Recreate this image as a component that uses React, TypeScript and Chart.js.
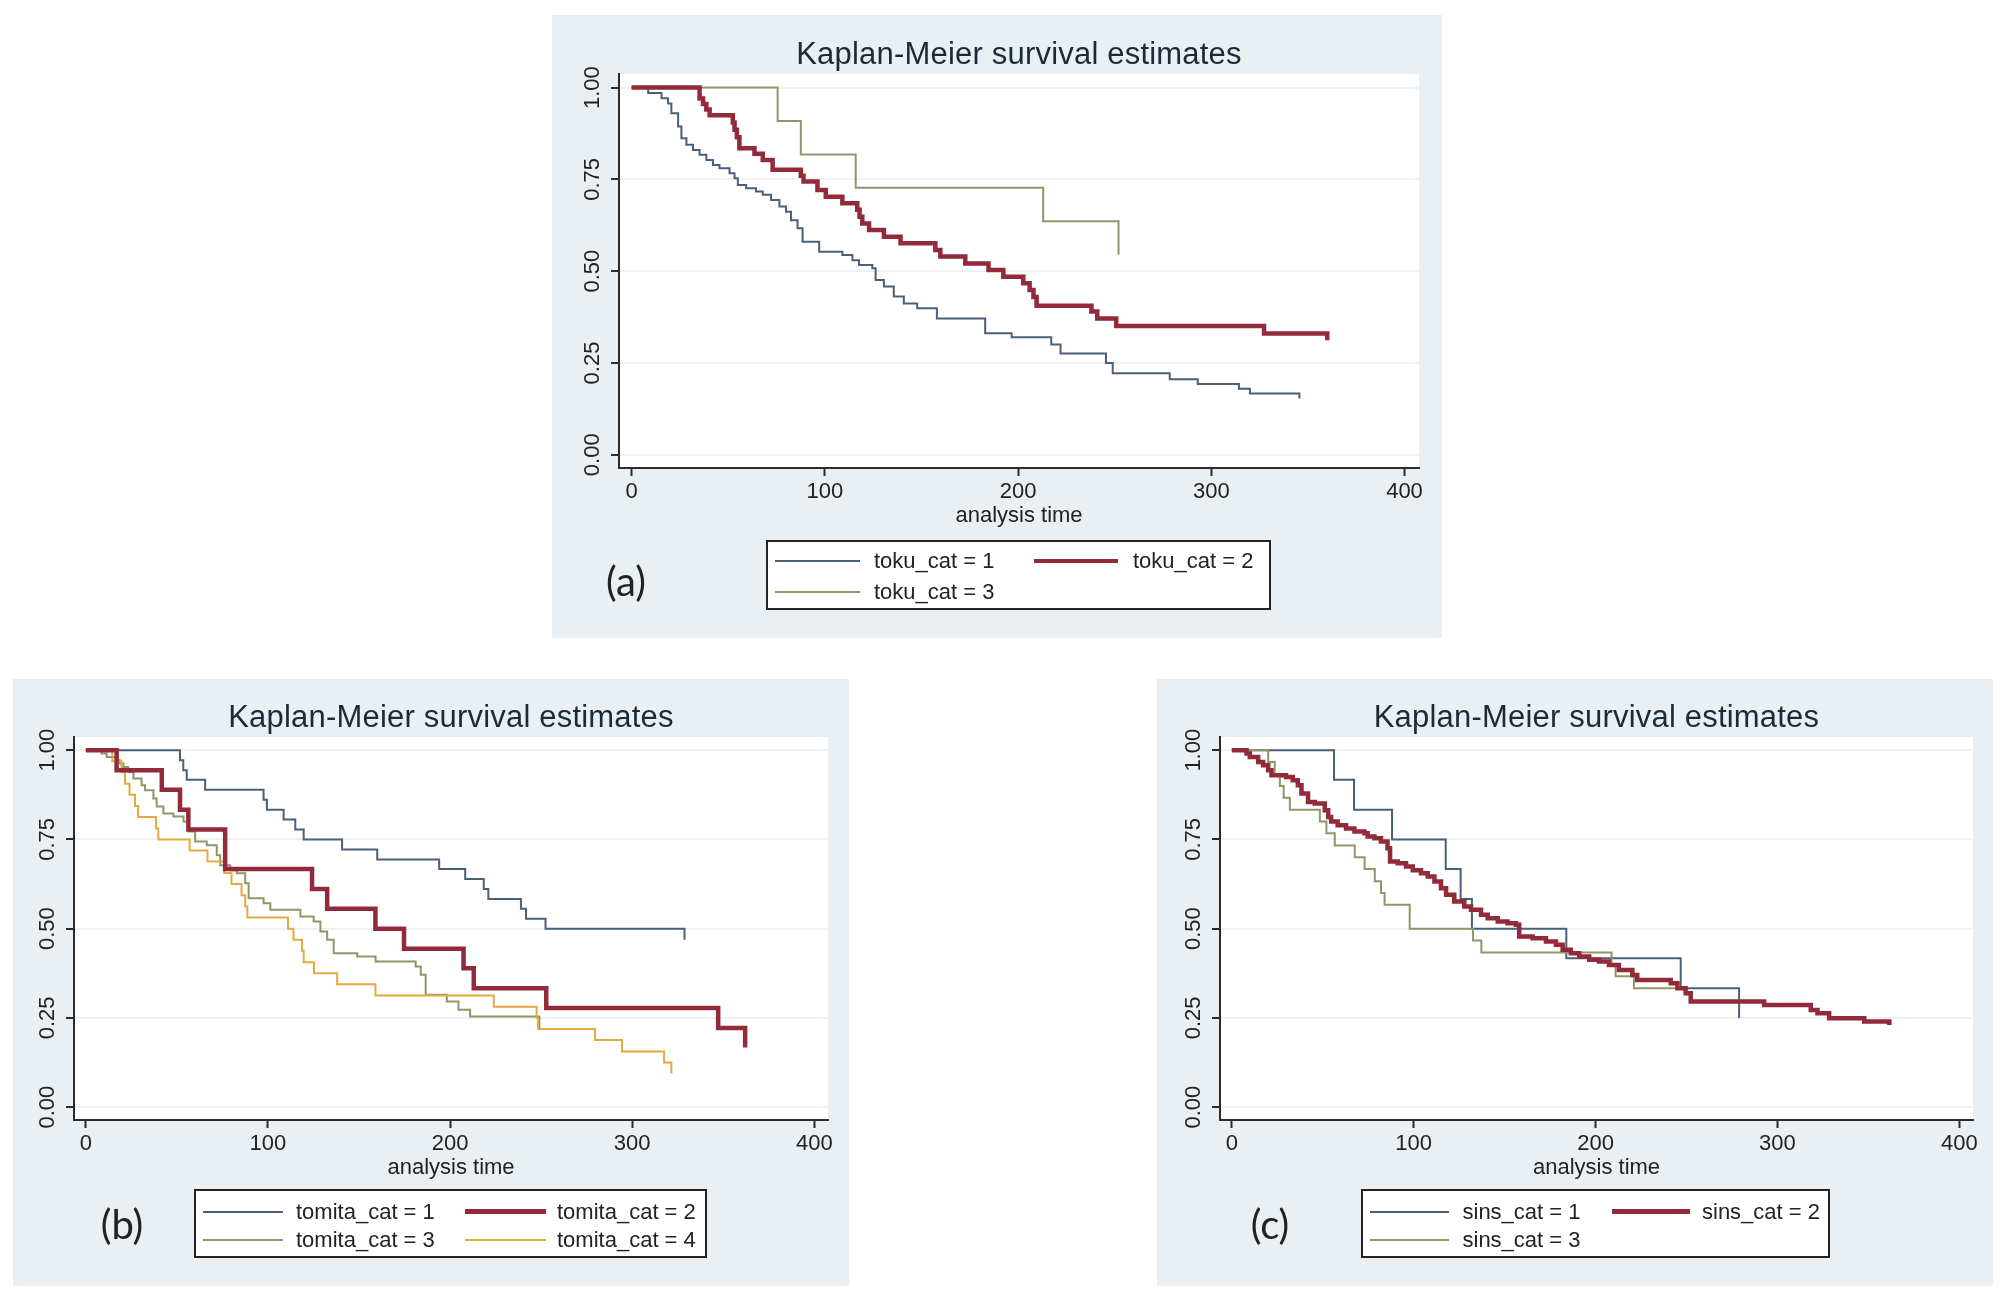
import React, { useEffect, useRef } from 'react';
import { Chart, registerables } from 'chart.js';

Chart.register(...registerables);

const FONT = "'Liberation Sans', Arial, Helvetica, sans-serif";
Chart.defaults.font.family = FONT;

// ---------- shared axis content ----------
const xTickValues = [0, 100, 200, 300, 400];
const yTickValues = [0, 0.25, 0.5, 0.75, 1];
const yTickLabels = ['0.00', '0.25', '0.50', '0.75', '1.00'];
const chartTitle = 'Kaplan-Meier survival estimates';
const xAxisTitle = 'analysis time';

// ---------- panel (a): toku_cat ----------
const tokuLabels = ['toku_cat = 1', 'toku_cat = 2', 'toku_cat = 3'];
const toku1Time = [0, 8.6, 15.5, 18.9, 20.6, 24.1, 25.8, 28.4, 31.8, 35.2, 38.7, 42.1, 45.5, 50.7, 53.3, 55.0, 59.3, 64.4, 67.9, 72.2, 76.5, 79.9, 82.5, 85.9, 88.5, 97.1, 109.1, 114.3, 117.7, 124.6, 126.3, 130.6, 135.7, 140.9, 147.8, 158.0, 183.0, 196.7, 217.2, 222.0, 245.5, 249.0, 278.5, 293.0, 314.3, 320.0, 345.6];
const toku1Surv = [1, 0.985, 0.971, 0.957, 0.93, 0.894, 0.862, 0.844, 0.83, 0.817, 0.803, 0.789, 0.78, 0.767, 0.753, 0.735, 0.726, 0.717, 0.708, 0.694, 0.676, 0.662, 0.639, 0.617, 0.58, 0.553, 0.544, 0.53, 0.517, 0.508, 0.476, 0.458, 0.431, 0.412, 0.399, 0.371, 0.331, 0.32, 0.3, 0.276, 0.25, 0.222, 0.206, 0.193, 0.18, 0.167, 0.153];
const toku2Time = [0, 35.2, 37.0, 38.7, 40.4, 52.4, 53.3, 54.5, 55.8, 63.6, 67.9, 73.0, 87.6, 89.0, 96.2, 100.5, 109.1, 116.8, 118.0, 119.4, 122.9, 130.6, 139.2, 157.2, 159.8, 172.7, 184.7, 192.4, 202.7, 206.0, 208.0, 209.6, 238.0, 241.0, 250.8, 327.3, 360.0];
const toku2Surv = [1, 0.97, 0.955, 0.94, 0.925, 0.905, 0.885, 0.865, 0.835, 0.82, 0.803, 0.776, 0.76, 0.744, 0.721, 0.703, 0.685, 0.667, 0.648, 0.63, 0.612, 0.594, 0.576, 0.558, 0.54, 0.521, 0.503, 0.485, 0.467, 0.449, 0.43, 0.406, 0.39, 0.371, 0.351, 0.33, 0.312];
const toku3Time = [0, 75.6, 87.6, 116.0, 213.0, 252.0];
const toku3Surv = [1, 0.909, 0.818, 0.727, 0.636, 0.545];

// ---------- panel (b): tomita_cat ----------
const tomitaLabels = ['tomita_cat = 1', 'tomita_cat = 2', 'tomita_cat = 3', 'tomita_cat = 4'];
const tomita1Time = [0, 51.7, 53.5, 55.4, 65.5, 97.6, 99.4, 108.6, 115.0, 119.6, 140.7, 160.0, 194.0, 208.3, 218.5, 221.0, 238.9, 241.7, 252.4, 328.7];
const tomita1Surv = [1, 0.972, 0.944, 0.917, 0.889, 0.861, 0.833, 0.806, 0.778, 0.75, 0.722, 0.694, 0.667, 0.639, 0.611, 0.583, 0.556, 0.528, 0.5, 0.469];
const tomita2Time = [0, 16.9, 41.7, 51.7, 56.3, 76.5, 124.2, 132.5, 159.0, 174.7, 207.4, 213.0, 252.8, 347.2, 362.0];
const tomita2Surv = [1, 0.944, 0.889, 0.833, 0.778, 0.667, 0.611, 0.556, 0.5, 0.444, 0.389, 0.333, 0.278, 0.222, 0.167];
const tomita3Time = [0, 8.6, 11.4, 16.9, 18.7, 20.6, 23.3, 26.1, 30.6, 32.5, 37.1, 38.9, 42.6, 48.1, 53.6, 56.3, 60.0, 66.4, 71.9, 73.8, 79.3, 82.9, 87.5, 89.4, 97.6, 101.3, 117.8, 125.1, 128.8, 132.5, 136.1, 149.0, 159.1, 181.1, 183.9, 186.6, 198.2, 204.6, 211.0, 249.0];
const tomita3Surv = [1, 0.991, 0.981, 0.972, 0.963, 0.953, 0.939, 0.921, 0.902, 0.888, 0.865, 0.842, 0.823, 0.814, 0.8, 0.772, 0.744, 0.734, 0.706, 0.678, 0.664, 0.655, 0.627, 0.585, 0.571, 0.553, 0.534, 0.52, 0.492, 0.469, 0.431, 0.422, 0.408, 0.394, 0.371, 0.315, 0.296, 0.273, 0.254, 0.222];
const tomita4Time = [0, 14.5, 19.6, 21.5, 24.0, 27.0, 28.7, 38.5, 39.8, 57.0, 66.8, 76.0, 80.0, 85.5, 87.5, 88.7, 111.0, 114.0, 118.7, 119.6, 125.3, 138.0, 159.0, 224.0, 247.5, 248.3, 279.6, 294.4, 317.5, 321.5];
const tomita4Surv = [1, 0.969, 0.938, 0.906, 0.875, 0.844, 0.813, 0.781, 0.75, 0.719, 0.688, 0.656, 0.625, 0.594, 0.563, 0.531, 0.5, 0.469, 0.438, 0.406, 0.375, 0.344, 0.313, 0.281, 0.25, 0.219, 0.188, 0.156, 0.125, 0.094];

// ---------- panel (c): sins_cat ----------
const sinsLabels = ['sins_cat = 1', 'sins_cat = 2', 'sins_cat = 3'];
const sins1Time = [0, 56.2, 67.2, 88.1, 117.6, 125.8, 132.0, 183.9, 246.8, 278.9];
const sins1Surv = [1, 0.917, 0.833, 0.75, 0.667, 0.583, 0.5, 0.417, 0.333, 0.25];
const sins2Time = [0, 8.1, 9.9, 14.5, 17.2, 20.0, 21.8, 29.8, 33.5, 36.3, 38.3, 41.9, 45.6, 51.1, 53.0, 54.6, 58.2, 62.8, 67.4, 72.9, 74.7, 78.4, 82.0, 85.6, 87.0, 91.2, 95.8, 99.5, 104.0, 107.7, 111.4, 115.0, 117.8, 122.3, 127.8, 131.5, 137.0, 140.7, 146.2, 151.6, 156.2, 158.0, 165.4, 172.7, 178.2, 181.9, 186.4, 191.0, 196.5, 201.8, 207.3, 212.8, 220.2, 222.9, 241.3, 245.0, 249.5, 252.3, 292.7, 318.3, 322.0, 328.4, 347.7, 361.5];
const sins2Surv = [1, 0.991, 0.981, 0.967, 0.958, 0.944, 0.93, 0.925, 0.916, 0.902, 0.879, 0.855, 0.851, 0.832, 0.813, 0.8, 0.79, 0.781, 0.772, 0.767, 0.758, 0.753, 0.744, 0.725, 0.688, 0.683, 0.674, 0.664, 0.655, 0.646, 0.632, 0.613, 0.595, 0.576, 0.562, 0.553, 0.539, 0.529, 0.52, 0.515, 0.511, 0.478, 0.473, 0.464, 0.455, 0.441, 0.431, 0.422, 0.413, 0.408, 0.398, 0.384, 0.37, 0.356, 0.347, 0.333, 0.319, 0.296, 0.286, 0.272, 0.263, 0.249, 0.24, 0.23];
const sins3Time = [0, 20.0, 23.6, 26.4, 28.5, 31.9, 48.4, 52.0, 56.6, 67.6, 73.0, 78.6, 82.0, 84.0, 97.8, 132.6, 137.2, 208.8, 211.0, 221.1, 246.5];
const sins3Surv = [1, 0.967, 0.933, 0.9, 0.867, 0.833, 0.8, 0.767, 0.733, 0.7, 0.667, 0.633, 0.6, 0.567, 0.5, 0.467, 0.433, 0.4, 0.367, 0.333, 0.333];

// ---------- styles ----------
const seriesColors = ['#4a6079', '#922a3a', '#8d9868', '#e3aa42'];
const seriesWidths = [2, 4.5, 2, 2];
const panelBg = '#e9eff2';
const axisColor = '#2b2b2b';
const gridColor = '#eef2f4';
const textColor = '#222222';

const X_MIN = -6.5;
const X_MAX = 407.5;
const Y_MIN = -0.036;
const Y_MAX = 1.037;
const Y_AXIS_W = 40;
const X_AXIS_H = 61;

type Series = { label: string; time: number[]; surv: number[]; idx: number };
type LegendSpec = {
  left: number; top: number; width: number; height: number;
  rows: number[];
  cols: { lineL: number; lineR: number; textL: number }[];
};
type PanelSpec = {
  left: number; top: number; width: number; height: number;
  area: { left: number; top: number; right: number; bottom: number };
  series: Series[];
  tag: string; tagX: number; tagY: number;
  legend: LegendSpec;
};

const mk = (labels: string[], times: number[][], survs: number[][]): Series[] =>
  labels.map((label, i) => ({ label, time: times[i], surv: survs[i], idx: i }));

const panels: PanelSpec[] = [
  {
    left: 552, top: 15, width: 890, height: 623,
    area: { left: 67, top: 59, right: 867, bottom: 453 },
    series: mk(tokuLabels, [toku1Time, toku2Time, toku3Time], [toku1Surv, toku2Surv, toku3Surv]),
    tag: '(a)', tagX: 626, tagY: 581,
    legend: {
      left: 766, top: 540, width: 505, height: 70, rows: [21, 51.5],
      cols: [{ lineL: 9, lineR: 94, textL: 108 }, { lineL: 268, lineR: 352, textL: 367 }],
    },
  },
  {
    left: 13, top: 679, width: 836, height: 607,
    area: { left: 61, top: 58, right: 815, bottom: 441 },
    series: mk(tomitaLabels, [tomita1Time, tomita2Time, tomita3Time, tomita4Time], [tomita1Surv, tomita2Surv, tomita3Surv, tomita4Surv]),
    tag: '(b)', tagX: 122, tagY: 1224,
    legend: {
      left: 194, top: 1189, width: 513, height: 69, rows: [22.5, 51],
      cols: [{ lineL: 9, lineR: 89, textL: 102 }, { lineL: 271, lineR: 352, textL: 363 }],
    },
  },
  {
    left: 1157, top: 679, width: 836, height: 607,
    area: { left: 63, top: 58, right: 816, bottom: 441 },
    series: mk(sinsLabels, [sins1Time, sins2Time, sins3Time], [sins1Surv, sins2Surv, sins3Surv]),
    tag: '(c)', tagX: 1270, tagY: 1224,
    legend: {
      left: 1361, top: 1189, width: 469, height: 69, rows: [22.5, 51],
      cols: [{ lineL: 9, lineR: 88, textL: 101.5 }, { lineL: 251, lineR: 329, textL: 341 }],
    },
  },
];

function KMPanel({ spec }: { spec: PanelSpec }) {
  const canvasRef = useRef<HTMLCanvasElement | null>(null);

  useEffect(() => {
    const canvas = canvasRef.current;
    if (!canvas) return;
    const { area, width, height } = spec;

    const datasets = spec.series.map((s) => ({
      label: s.label,
      data: s.time.map((t, i) => ({ x: t, y: s.surv[i] })),
      borderColor: seriesColors[s.idx],
      backgroundColor: seriesColors[s.idx],
      borderWidth: seriesWidths[s.idx],
      pointRadius: 0,
      pointHoverRadius: 0,
      fill: false,
      tension: 0,
      stepped: 'before' as const,
      borderJoinStyle: 'miter' as const,
      borderCapStyle: 'butt' as const,
      order: s.idx === 1 ? 0 : 10 - s.idx,
    }));

    const decor = {
      id: 'kmDecor',
      beforeDraw(chart: any) {
        const { ctx, chartArea } = chart;
        ctx.save();
        ctx.fillStyle = '#ffffff';
        ctx.fillRect(chartArea.left, chartArea.top, chartArea.right - chartArea.left, chartArea.bottom - chartArea.top);
        ctx.restore();
      },
      afterDraw(chart: any) {
        const { ctx, chartArea } = chart;
        const yScale = chart.scales.y;
        ctx.save();
        ctx.fillStyle = textColor;
        ctx.font = `22px ${FONT}`;
        ctx.textAlign = 'center';
        ctx.textBaseline = 'middle';
        yTickValues.forEach((v, i) => {
          const py = yScale.getPixelForValue(v);
          ctx.save();
          ctx.translate(chartArea.left - 26, py);
          ctx.rotate(-Math.PI / 2);
          ctx.fillText(yTickLabels[i], 0, 0);
          ctx.restore();
        });
        ctx.restore();

        ctx.save();
        ctx.fillStyle = '#1c2a38';
        ctx.font = `31px ${FONT}`;
        (ctx as any).letterSpacing = '0.2px';
        ctx.textAlign = 'center';
        ctx.textBaseline = 'alphabetic';
        ctx.fillText(chartTitle, (chartArea.left + chartArea.right) / 2, chartArea.top - 10);
        ctx.restore();
      },
    };

    const chart = new Chart(canvas, {
      type: 'line',
      data: { datasets },
      options: {
        animation: false,
        responsive: false,
        maintainAspectRatio: false,
        events: [],
        layout: {
          padding: {
            left: area.left - Y_AXIS_W,
            right: width - area.right,
            top: area.top,
            bottom: height - area.bottom - X_AXIS_H,
          },
        },
        plugins: {
          legend: { display: false },
          tooltip: { enabled: false },
          title: { display: false },
        },
        scales: {
          x: {
            type: 'linear',
            bounds: 'data',
            min: X_MIN,
            max: X_MAX,
            afterBuildTicks: (s: any) => {
              s.ticks = xTickValues.map((v) => ({ value: v }));
            },
            afterFit: (s: any) => {
              s.height = X_AXIS_H;
              s.paddingLeft = 0;
              s.paddingRight = 0;
            },
            ticks: {
              autoSkip: false,
              maxRotation: 0,
              minRotation: 0,
              padding: 3,
              color: textColor,
              font: { family: FONT, size: 22 },
              callback: (v: any) => String(v),
            },
            grid: {
              drawOnChartArea: false,
              drawTicks: true,
              tickLength: 8,
              tickColor: axisColor,
              tickWidth: 2,
            },
            border: { display: true, color: axisColor, width: 2 },
            title: {
              display: true,
              text: xAxisTitle,
              color: textColor,
              font: { family: FONT, size: 22 },
              padding: { top: 0, bottom: 0 },
            },
          },
          y: {
            type: 'linear',
            bounds: 'data',
            min: Y_MIN,
            max: Y_MAX,
            afterBuildTicks: (s: any) => {
              s.ticks = yTickValues.map((v) => ({ value: v }));
            },
            afterFit: (s: any) => {
              s.width = Y_AXIS_W;
              s.paddingTop = 0;
              s.paddingBottom = 0;
            },
            ticks: { display: false },
            grid: {
              drawOnChartArea: true,
              color: gridColor,
              lineWidth: 2,
              drawTicks: true,
              tickLength: 8,
              tickColor: axisColor,
              tickWidth: 2,
            },
            border: { display: true, color: axisColor, width: 2 },
          },
        },
      } as any,
      plugins: [decor],
    });

    return () => {
      chart.destroy();
    };
  }, [spec]);

  const lg = spec.legend;
  return (
    <div
      style={{
        position: 'absolute',
        left: spec.left,
        top: spec.top,
        width: spec.width,
        height: spec.height,
        background: panelBg,
      }}
    >
      <canvas
        ref={canvasRef}
        width={spec.width}
        height={spec.height}
        style={{ position: 'absolute', left: 0, top: 0, width: spec.width, height: spec.height }}
      />
      <div
        style={{
          position: 'absolute',
          left: spec.tagX - spec.left,
          top: spec.tagY - spec.top,
          transform: 'translate(-50%, -50%)',
          fontFamily: "Lato, 'Open Sans', sans-serif",
          fontSize: 40,
          lineHeight: 1,
          color: textColor,
          whiteSpace: 'nowrap',
        }}
      >
        {spec.tag}
      </div>
      <div
        style={{
          position: 'absolute',
          left: lg.left - spec.left,
          top: lg.top - spec.top,
          width: lg.width,
          height: lg.height,
          boxSizing: 'border-box',
          border: '2px solid #222',
          background: '#ffffff',
        }}
      >
        {spec.series.map((s, i) => {
          const col = lg.cols[i % 2];
          const rowY = lg.rows[Math.floor(i / 2)] - 2;
          const w = seriesWidths[s.idx];
          return (
            <React.Fragment key={s.label}>
              <div
                style={{
                  position: 'absolute',
                  left: col.lineL - 2,
                  top: rowY - w / 2,
                  width: col.lineR - col.lineL,
                  height: w,
                  background: seriesColors[s.idx],
                }}
              />
              <div
                style={{
                  position: 'absolute',
                  left: col.textL - 2,
                  top: rowY - 13,
                  height: 26,
                  lineHeight: '26px',
                  fontFamily: FONT,
                  fontSize: 22,
                  color: textColor,
                  whiteSpace: 'nowrap',
                }}
              >
                {s.label}
              </div>
            </React.Fragment>
          );
        })}
      </div>
    </div>
  );
}

export default function App() {
  return (
    <div
      style={{
        position: 'absolute',
        left: 0,
        top: 0,
        width: 2010,
        height: 1294,
        background: '#ffffff',
        overflow: 'hidden',
      }}
    >
      {panels.map((p) => (
        <KMPanel key={p.tag} spec={p} />
      ))}
    </div>
  );
}
